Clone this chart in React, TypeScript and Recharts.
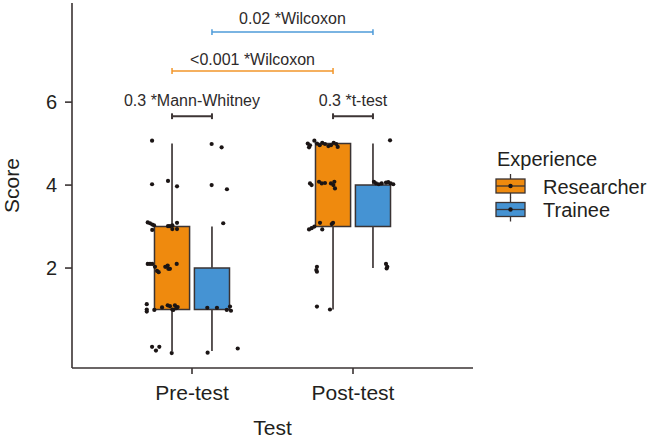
import React from 'react';
import {
  ComposedChart,
  XAxis,
  YAxis,
  Scatter,
  ReferenceArea,
  ReferenceLine,
  ReferenceDot,
  Legend,
  Label,
} from 'recharts';

// ---------- data ----------
const categories = ['Pre-test', 'Post-test'];
const categoryPositions = [1, 2];
const experienceGroups = ['Researcher', 'Trainee'];
const yTicks = [2, 4, 6];

// box statistics per category (Pre-test, Post-test)
const researcherMin = [0, 1];
const researcherQ1 = [1, 3];
const researcherQ3 = [3, 5];
const researcherMax = [5, 5];
const traineeMin = [0, 2];
const traineeQ1 = [1, 3];
const traineeQ3 = [2, 4];
const traineeMax = [3, 5];

// jittered observations: [x position on category scale, score]
const preResearcherPoints: [number, number][] = [
  [0.752, 5.07], [0.752, 4.02], [0.851, 4.1], [0.907, 3.97],
  [0.725, 3.1], [0.739, 3.08], [0.753, 3.05], [0.764, 3.03], [0.753, 2.92],
  [0.851, 3.01], [0.863, 3.01], [0.878, 3.03], [0.907, 3.09], [0.878, 2.94], [0.907, 2.94],
  [0.725, 2.1], [0.739, 2.1], [0.753, 2.1], [0.77, 2.03], [0.783, 1.93], [0.793, 1.9],
  [0.834, 2.03], [0.849, 2.06], [0.863, 1.98], [0.853, 1.98], [0.905, 2.1],
  [0.719, 1.13], [0.719, 1.0], [0.719, 0.95], [0.766, 0.99], [0.814, 1.05], [0.849, 1.1],
  [0.863, 1.08], [0.878, 1.0], [0.894, 1.1], [0.911, 1.06], [0.884, 0.99], [0.902, 1.03],
  [0.752, 0.1], [0.776, 0.01], [0.797, 0.1], [0.874, -0.05],
];
const preTraineePoints: [number, number][] = [
  [1.122, 4.99], [1.184, 4.91], [1.122, 4.0], [1.217, 3.9], [1.194, 3.08],
  [1.095, 1.04], [1.155, 1.04], [1.216, 0.99], [1.236, 1.07], [1.242, 0.97],
  [1.097, -0.04], [1.284, 0.06],
];
const postResearcherPoints: [number, number][] = [
  [1.719, 5.0], [1.733, 4.96], [1.727, 4.91], [1.76, 5.07], [1.776, 5.0], [1.793, 4.96],
  [1.809, 5.02], [1.826, 4.99], [1.847, 4.94], [1.863, 4.96], [1.88, 5.02], [1.896, 4.99], [1.905, 4.92],
  [1.733, 4.04], [1.743, 4.0], [1.789, 4.08], [1.806, 4.04], [1.826, 4.05], [1.863, 4.04],
  [1.878, 4.0], [1.888, 3.92], [1.884, 4.08],
  [1.727, 2.93], [1.743, 2.96], [1.76, 3.0], [1.795, 3.09], [1.809, 2.93], [1.868, 3.06], [1.876, 3.09],
  [1.776, 2.03], [1.772, 1.95], [1.776, 1.91],
  [1.776, 1.07], [1.857, 1.0],
];
const postTraineePoints: [number, number][] = [
  [2.23, 5.08],
  [2.13, 4.08], [2.143, 4.04], [2.16, 4.02], [2.178, 4.04], [2.205, 4.06], [2.219, 4.07], [2.234, 4.04], [2.25, 4.02],
  [2.205, 2.1], [2.213, 2.03], [2.209, 1.99],
];

// pairwise comparisons
const comparisonLabels = ['0.3 *Mann-Whitney', '0.3 *t-test', '<0.001 *Wilcoxon', '0.02 *Wilcoxon'];
const comparisonFrom = [0.876, 1.876, 0.876, 1.124];
const comparisonTo = [1.124, 2.124, 1.876, 2.124];
const comparisonY = [5.66, 5.66, 6.75, 7.69];
const comparisonLabelY = [6.05, 6.05, 7.04, 8.03];

// ---------- styles ----------
const FONT = '"Liberation Sans", Arial, Helvetica, sans-serif';
const ORANGE = '#EF8A0E';
const BLUE = '#4593D3';
const DARK = '#3a3333';
const TEXT = '#231f20';
const comparisonColors = ['#3d3535', '#3d3535', '#F2962A', '#4E9BD9'];
const DODGE = 0.124;
const HALF = 0.109;
const TICK_HALF = 0.07;
const X_DOMAIN: [number, number] = [0.2547, 2.7453];
const Y_DOMAIN: [number, number] = [-0.41, 8.39];

const toObjs = (pts: [number, number][]) => pts.map(([x, y]) => ({ x, y }));

const renderDot = (props: any) => (
  <circle cx={props.cx} cy={props.cy} r={2.1} fill="#1b1515" />
);

const LegendContent = () => (
  <svg width={168} height={90} style={{ fontFamily: FONT }}>
    <text x={7} y={26} fontSize={20} fill={TEXT}>Experience</text>
    {experienceGroups.map((g, i) => {
      const cy = 46 + i * 23.5;
      const fill = i === 0 ? ORANGE : BLUE;
      return (
        <g key={g}>
          <line x1={20.5} x2={20.5} y1={cy - 12} y2={cy + 12} stroke={DARK} strokeWidth={1.3} />
          <rect x={6} y={cy - 7} width={29} height={14} fill={fill} stroke={DARK} strokeWidth={1.3} />
          <line x1={6} x2={35} y1={cy} y2={cy} stroke={DARK} strokeWidth={1.3} />
          <circle cx={20.5} cy={cy} r={2.2} fill="#1b1515" />
          <text x={53} y={cy + 7.5} fontSize={20} fill={TEXT}>{g}</text>
        </g>
      );
    })}
  </svg>
);

export default function App() {
  const groupsStats = [
    { offset: -DODGE, min: researcherMin, q1: researcherQ1, q3: researcherQ3, max: researcherMax, fill: ORANGE },
    { offset: DODGE, min: traineeMin, q1: traineeQ1, q3: traineeQ3, max: traineeMax, fill: BLUE },
  ];

  const whiskers: React.ReactNode[] = [];
  const boxes: React.ReactNode[] = [];
  categoryPositions.forEach((c, i) => {
    groupsStats.forEach((g, j) => {
      const cx = c + g.offset;
      if (g.max[i] > g.q3[i]) {
        whiskers.push(
          <ReferenceLine key={`wt${i}${j}`} segment={[{ x: cx, y: g.q3[i] }, { x: cx, y: g.max[i] }]}
            stroke="#4a4343" strokeWidth={1.8} ifOverflow="visible" />
        );
      }
      if (g.min[i] < g.q1[i]) {
        whiskers.push(
          <ReferenceLine key={`wb${i}${j}`} segment={[{ x: cx, y: g.min[i] }, { x: cx, y: g.q1[i] }]}
            stroke="#4a4343" strokeWidth={1.8} ifOverflow="visible" />
        );
      }
      boxes.push(
        <ReferenceArea key={`b${i}${j}`} x1={cx - HALF} x2={cx + HALF} y1={g.q1[i]} y2={g.q3[i]}
          fill={g.fill} fillOpacity={1} stroke={DARK} strokeWidth={1.5} ifOverflow="visible" />
      );
    });
  });

  const brackets: React.ReactNode[] = [];
  comparisonLabels.forEach((label, k) => {
    const col = comparisonColors[k];
    const sw = k < 2 ? 2 : 1.5;
    brackets.push(
      <ReferenceLine key={`bl${k}`} segment={[{ x: comparisonFrom[k], y: comparisonY[k] }, { x: comparisonTo[k], y: comparisonY[k] }]}
        stroke={col} strokeWidth={sw} ifOverflow="visible" />,
      <ReferenceLine key={`bs${k}`} segment={[{ x: comparisonFrom[k], y: comparisonY[k] - TICK_HALF }, { x: comparisonFrom[k], y: comparisonY[k] + TICK_HALF }]}
        stroke={col} strokeWidth={sw} ifOverflow="visible" />,
      <ReferenceLine key={`be${k}`} segment={[{ x: comparisonTo[k], y: comparisonY[k] - TICK_HALF }, { x: comparisonTo[k], y: comparisonY[k] + TICK_HALF }]}
        stroke={col} strokeWidth={sw} ifOverflow="visible" />,
      <ReferenceDot key={`bt${k}`} x={(comparisonFrom[k] + comparisonTo[k]) / 2} y={comparisonLabelY[k]} r={0}
        fill="none" stroke="none" ifOverflow="visible"
        label={{ value: label, position: 'center', fill: '#2e2a2a', fontSize: 16, fontFamily: FONT }} />
    );
  });

  return (
    <div style={{ position: 'absolute', left: 0, top: 0, width: 658, height: 438, background: '#ffffff', fontFamily: FONT }}>
      <ComposedChart width={658} height={438} margin={{ top: 3, right: 185, bottom: 0, left: 0 }}>
        <XAxis
          dataKey="x"
          type="number"
          domain={X_DOMAIN}
          allowDataOverflow
          ticks={categoryPositions}
          interval={0}
          tickFormatter={(v: number) => categories[categoryPositions.indexOf(v)] ?? ''}
          height={70}
          tickSize={6}
          tickMargin={11}
          axisLine={{ stroke: DARK, strokeWidth: 1.6 }}
          tickLine={{ stroke: DARK, strokeWidth: 1.6 }}
          tick={{ fill: TEXT, fontSize: 21, fontFamily: FONT }}
        >
          <Label
            content={(props: any) => {
              const vb = props.viewBox || {};
              return (
                <text x={vb.x + vb.width / 2} y={435} textAnchor="middle" fontSize={21} fill={TEXT} fontFamily={FONT}>
                  Test
                </text>
              );
            }}
          />
        </XAxis>
        <YAxis
          dataKey="y"
          type="number"
          domain={Y_DOMAIN}
          allowDataOverflow
          ticks={yTicks}
          width={72}
          tickSize={7}
          tickMargin={8}
          axisLine={{ stroke: DARK, strokeWidth: 1.6 }}
          tickLine={{ stroke: DARK, strokeWidth: 1.6 }}
          tick={{ fill: TEXT, fontSize: 20, fontFamily: FONT }}
        >
          <Label
            content={(props: any) => {
              const vb = props.viewBox || {};
              const cy = vb.y + vb.height / 2;
              return (
                <text x={19} y={cy} transform={`rotate(-90, 19, ${cy})`} textAnchor="middle" fontSize={21} fill={TEXT} fontFamily={FONT}>
                  Score
                </text>
              );
            }}
          />
        </YAxis>
        {whiskers}
        {boxes}
        {brackets}
        <Scatter name="Pre Researcher" data={toObjs(preResearcherPoints)} dataKey="y" shape={renderDot} isAnimationActive={false} legendType="none" />
        <Scatter name="Pre Trainee" data={toObjs(preTraineePoints)} dataKey="y" shape={renderDot} isAnimationActive={false} legendType="none" />
        <Scatter name="Post Researcher" data={toObjs(postResearcherPoints)} dataKey="y" shape={renderDot} isAnimationActive={false} legendType="none" />
        <Scatter name="Post Trainee" data={toObjs(postTraineePoints)} dataKey="y" shape={renderDot} isAnimationActive={false} legendType="none" />
        <Legend
          layout="horizontal"
          verticalAlign="middle"
          align="center"
          content={() => <LegendContent />}
          wrapperStyle={{ left: 490, top: 140, width: 168, height: 90 }}
        />
      </ComposedChart>
    </div>
  );
}
